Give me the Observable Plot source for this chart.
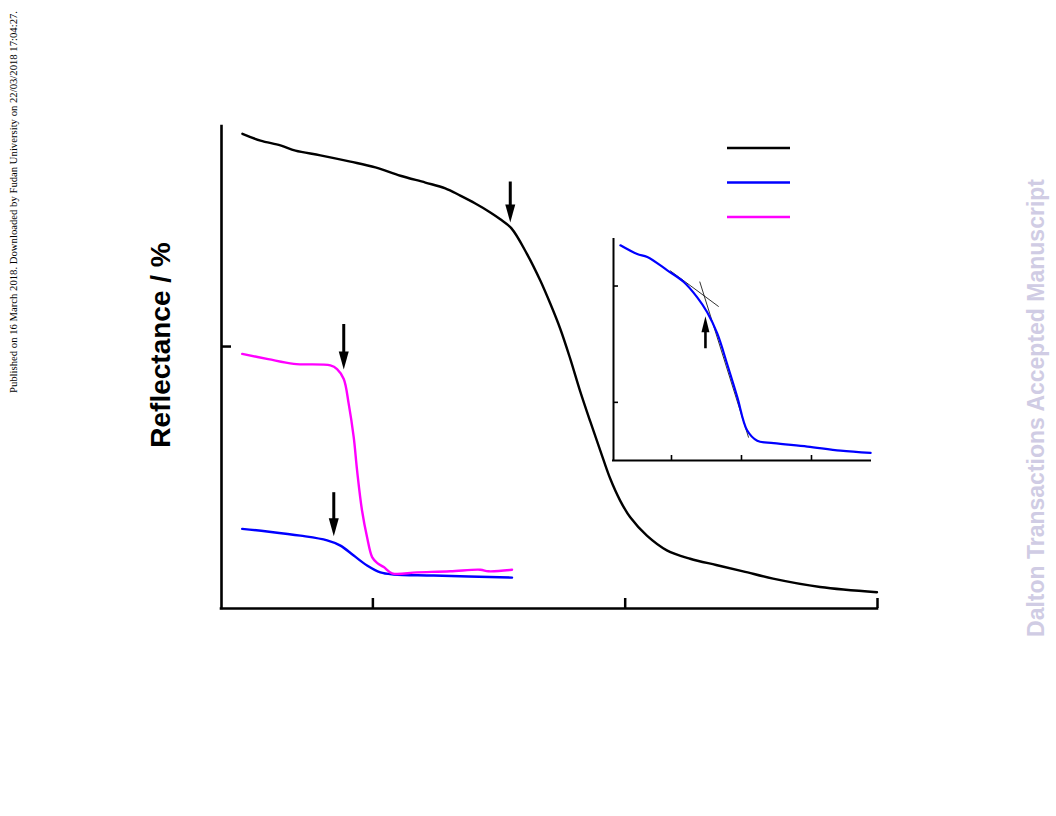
<!DOCTYPE html>
<html><head><meta charset="utf-8">
<script src="https://cdn.jsdelivr.net/npm/d3@7"></script>
<script src="https://cdn.jsdelivr.net/npm/@observablehq/plot@0.6"></script>
<style>
html,body{margin:0;padding:0;background:#fff;overflow:hidden;}
#wrap{position:relative;width:1056px;height:816px;}
.rot{position:absolute;white-space:nowrap;line-height:1;transform:translate(-50%,-50%) rotate(-90deg);}
</style></head><body>
<div id="wrap"></div>
<script>
// ---- main panel data (wavelength / nm, reflectance / %) ----
const mainXTicks = [400, 600, 800];
const mainYTicks = [50];

const blackWl = [296.6, 310.9, 326.7, 338.6, 358.4, 382.2, 402.0, 421.8, 441.6, 457.4, 469.3, 481.2, 493.1, 501.0, 509.7, 522.1, 532.7, 540.6, 548.5, 556.4, 564.4, 572.3, 580.2, 588.1, 596.0, 604.0, 617.2, 633.0, 651.5, 672.1, 693.5, 717.2, 754.5, 799.6];
const blackR  = [90.6, 89.3, 88.4, 87.4, 86.5, 85.3, 84.2, 82.6, 81.3, 80.2, 78.8, 77.3, 75.6, 74.3, 72.6, 67.7, 62.6, 58.2, 53.4, 47.7, 41.4, 35.7, 30.2, 24.8, 20.6, 17.4, 13.9, 11.1, 9.5, 8.3, 7.1, 5.7, 4.1, 3.1];

const magentaWl = [296.4, 317.0, 337.3, 366.3, 371.6, 376.9, 380.8, 384.8, 387.5, 391.4, 395.4, 399.4, 403.3, 408.6, 415.2, 435.0, 461.4, 485.1, 491.7, 510.3];
const magentaR  = [48.6, 47.6, 46.7, 46.4, 45.7, 43.8, 39.1, 32.7, 26.3, 18.7, 13.6, 9.8, 8.7, 7.9, 6.7, 6.9, 7.1, 7.4, 7.1, 7.4];

const blueWl = [296.4, 316.2, 342.6, 363.7, 374.3, 384.8, 395.4, 405.9, 416.5, 448.2, 510.3];
const blueR  = [15.2, 14.7, 13.9, 13.0, 12.0, 10.1, 8.2, 6.9, 6.5, 6.3, 5.9];

// arrows marking transitions (main panel)
const arrowWl   = [508.9, 376.9, 369.0];
const arrowTail = [81.5, 54.3, 22.2];
const arrowTip  = [73.7, 45.6, 13.8];

// ---- inset data ----
const insetXTicks = [360, 380, 400];
const insetYTicks = [10, 12];
const insetWl = [345.4, 350.2, 353.1, 358.8, 363.5, 367.3, 370.2, 373.1, 375.9, 378.8, 381.6, 384.5, 389.2, 398.8, 408.3, 416.9];
const insetR  = [12.70, 12.55, 12.50, 12.27, 12.07, 11.81, 11.55, 11.18, 10.66, 10.09, 9.52, 9.34, 9.30, 9.24, 9.17, 9.13];
const tangentAWl = [359.7, 373.4], tangentAR = [12.26, 11.65];
const tangentBWl = [368.1, 382.0], tangentBR = [12.07, 9.40];
const insetArrowWl = [369.7], insetArrowTail = [10.93], insetArrowTip = [11.48];

const legendColors = ["#000000", "#0000ff", "#ff00ff"];

// ---- build tables ----
const zip = (xs, ys) => xs.map((x, i) => ({wl: x, r: ys[i]}));
const black = zip(blackWl, blackR), magenta = zip(magentaWl, magentaR), blue = zip(blueWl, blueR);
const arrows = arrowWl.map((x, i) => ({wl: x, tail: arrowTail[i], tip: arrowTip[i]}));
const inset = zip(insetWl, insetR);
const tanA = zip(tangentAWl, tangentAR), tanB = zip(tangentBWl, tangentBR);
const insetArrows = insetArrowWl.map((x, i) => ({wl: x, tail: insetArrowTail[i], tip: insetArrowTip[i]}));

const headDown = {draw(ctx) { ctx.moveTo(0, 0); ctx.lineTo(-5, -18); ctx.lineTo(5, -18); ctx.closePath(); }};
const headUp = {draw(ctx) { ctx.moveTo(0, 0); ctx.lineTo(-4, 16); ctx.lineTo(4, 16); ctx.closePath(); }};
const noText = () => "";

const main = Plot.plot({
  width: 1056, height: 816,
  marginLeft: 221, marginRight: 179, marginTop: 126, marginBottom: 208,
  style: {background: "transparent", overflow: "visible"},
  x: {domain: [280, 800], label: null},
  y: {domain: [0, 92], label: null},
  marks: [
    Plot.axisX(mainXTicks, {tickSize: -10, tickFormat: noText, strokeWidth: 2.5, label: null}),
    Plot.axisY(mainYTicks, {tickSize: -10, tickFormat: noText, strokeWidth: 2.5, label: null}),
    Plot.ruleX([280], {strokeWidth: 2.6, strokeLinecap: "square"}),
    Plot.ruleY([0], {strokeWidth: 2.6, strokeLinecap: "square"}),
    Plot.line(black, {x: "wl", y: "r", stroke: legendColors[0], strokeWidth: 2.4, curve: "catmull-rom"}),
    Plot.line(blue, {x: "wl", y: "r", stroke: legendColors[1], strokeWidth: 2.4, curve: "catmull-rom"}),
    Plot.line(magenta, {x: "wl", y: "r", stroke: legendColors[2], strokeWidth: 2.4, curve: "catmull-rom"}),
    Plot.arrow(arrows, {x1: "wl", x2: "wl", y1: "tail", y2: "tip", insetEnd: 14, headLength: 0, strokeWidth: 3, strokeLinecap: "butt"}),
    Plot.dot(arrows, {x: "wl", y: "tip", symbol: headDown, r: 5, fill: "black", stroke: null})
  ]
});

const insetPlot = Plot.plot({
  width: 1056, height: 816,
  marginLeft: 613, marginRight: 186, marginTop: 239, marginBottom: 356,
  style: {background: "transparent", overflow: "visible"},
  x: {domain: [343.43, 416.86], label: null},
  y: {domain: [9, 12.8], label: null},
  marks: [
    Plot.axisX(insetXTicks, {tickSize: -5, tickFormat: noText, strokeWidth: 1.6, label: null}),
    Plot.axisY(insetYTicks, {tickSize: -5, tickFormat: noText, strokeWidth: 1.6, label: null}),
    Plot.ruleX([343.43], {strokeWidth: 2, strokeLinecap: "square"}),
    Plot.ruleY([9], {strokeWidth: 2, strokeLinecap: "square"}),
    Plot.line(tanA, {x: "wl", y: "r", stroke: "black", strokeWidth: 0.8}),
    Plot.line(tanB, {x: "wl", y: "r", stroke: "black", strokeWidth: 0.8}),
    Plot.line(inset, {x: "wl", y: "r", stroke: legendColors[1], strokeWidth: 2.2, curve: "catmull-rom"}),
    Plot.arrow(insetArrows, {x1: "wl", x2: "wl", y1: "tail", y2: "tip", insetEnd: 12, headLength: 0, strokeWidth: 2.6, strokeLinecap: "butt"}),
    Plot.dot(insetArrows, {x: "wl", y: "tip", symbol: headUp, r: 5, fill: "black", stroke: null})
  ]
});

const wrap = document.getElementById("wrap");
for (const el of [main, insetPlot]) {
  el.style.position = "absolute"; el.style.left = "0px"; el.style.top = "0px";
  wrap.appendChild(el);
}

// legend keys (no label text in the source)
const ns = "http://www.w3.org/2000/svg";
const leg = document.createElementNS(ns, "svg");
leg.setAttribute("width", 80); leg.setAttribute("height", 90);
leg.style.position = "absolute"; leg.style.left = "720px"; leg.style.top = "130px";
legendColors.forEach((c, i) => {
  const l = document.createElementNS(ns, "line");
  l.setAttribute("x1", 7); l.setAttribute("x2", 70);
  l.setAttribute("y1", 18 + i * 34.5); l.setAttribute("y2", 18 + i * 34.5);
  l.setAttribute("stroke", c); l.setAttribute("stroke-width", 2.6);
  leg.appendChild(l);
});
wrap.appendChild(leg);

function addText(txt, x, y, css) {
  const d = document.createElement("div");
  d.className = "rot"; d.textContent = txt;
  d.style.left = x + "px"; d.style.top = y + "px";
  Object.assign(d.style, css);
  wrap.appendChild(d);
}
addText("Reflectance / %", 161, 345, {fontFamily: "'Liberation Sans', Arial, sans-serif", fontWeight: "bold", fontSize: "28px", color: "#000"});
addText("Published on 16 March 2018. Downloaded by Fudan University on 22/03/2018 17:04:27.", 13, 202, {fontFamily: "'Liberation Serif', 'Times New Roman', serif", fontSize: "10.7px", color: "#000"});
addText("Dalton Transactions Accepted Manuscript", 1036, 408, {fontFamily: "'Liberation Sans', Arial, sans-serif", fontWeight: "bold", fontSize: "23px", color: "#d0cce4"});
</script>
</body></html>
